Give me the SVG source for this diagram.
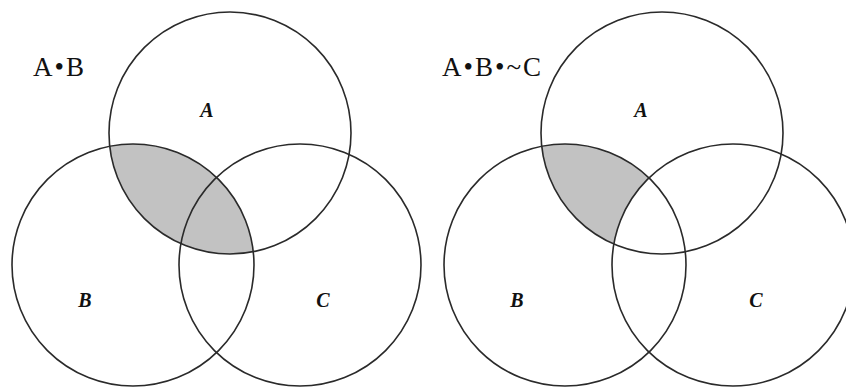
<svg xmlns="http://www.w3.org/2000/svg" width="846" height="388" viewBox="0 0 846 388">
  <style>
    .ring { fill: none; stroke: #2a2a2a; stroke-width: 1.6; }
    .shade { fill: #c2c2c2; }
    .title { font-family: "Liberation Serif", "Times New Roman", serif; font-size: 27px; fill: #111; letter-spacing: 2px; }
    .set { font-family: "Liberation Serif", "Times New Roman", serif; font-size: 20px; font-style: italic; font-weight: bold; fill: #111; text-anchor: middle; }
  </style>
  <defs>
    <clipPath id="clipA1"><circle cx="230" cy="133" r="121"/></clipPath>
    <clipPath id="clipA2"><circle cx="662" cy="133" r="121"/></clipPath>
  </defs>
  <rect width="846" height="388" fill="#ffffff"/>

  <!-- Left diagram: A • B -->
  <g id="left-diagram">
    <g id="left-shade">
      <circle class="shade" cx="133" cy="265" r="121" clip-path="url(#clipA1)"/>
    </g>
    <g id="left-circle-A">
      <circle class="ring" cx="230" cy="133" r="121"/>
      <text class="set" x="207" y="117">A</text>
    </g>
    <g id="left-circle-B">
      <circle class="ring" cx="133" cy="265" r="121"/>
      <text class="set" x="85" y="307">B</text>
    </g>
    <g id="left-circle-C">
      <circle class="ring" cx="300" cy="265" r="121"/>
      <text class="set" x="323" y="307">C</text>
    </g>
    <g id="left-label">
      <text class="title" x="33" y="76">A•B</text>
    </g>
  </g>

  <!-- Right diagram: A • B • ~C -->
  <g id="right-diagram">
    <g id="right-shade">
      <circle class="shade" cx="565" cy="265" r="121" clip-path="url(#clipA2)"/>
      <circle cx="733" cy="265" r="121" fill="#ffffff" clip-path="url(#clipA2)"/>
    </g>
    <g id="right-circle-A">
      <circle class="ring" cx="662" cy="133" r="121"/>
      <text class="set" x="641" y="117">A</text>
    </g>
    <g id="right-circle-B">
      <circle class="ring" cx="565" cy="265" r="121"/>
      <text class="set" x="517" y="307">B</text>
    </g>
    <g id="right-circle-C">
      <circle class="ring" cx="733" cy="265" r="121"/>
      <text class="set" x="756" y="307">C</text>
    </g>
    <g id="right-label">
      <text class="title" x="442" y="76">A•B•~C</text>
    </g>
  </g>
</svg>
